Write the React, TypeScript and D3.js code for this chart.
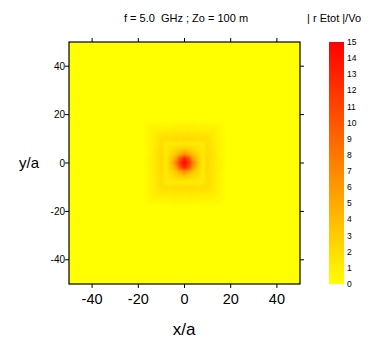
import React from "react";
import * as d3 from "d3";

// grid coordinates (x/a, y/a) of the field samples around the source
const gridX = [-16, -14, -12, -10, -8, -6, -4, -2, 0, 2, 4, 6, 8, 10, 12, 14, 16];
const gridY = [16, 14, 12, 10, 8, 6, 4, 2, 0, -2, -4, -6, -8, -10, -12, -14, -16];

// |r Etot|/Vo, one row per gridY value
const field = [
  [0.3, 0.4, 0.4, 0.5, 0.5, 0.5, 0.6, 0.6, 0.6, 0.6, 0.6, 0.5, 0.5, 0.5, 0.4, 0.4, 0.3],
  [0.4, 0.7, 0.8, 0.9, 0.9, 0.9, 1.0, 1.0, 1.0, 1.0, 1.0, 0.9, 0.9, 0.9, 0.8, 0.7, 0.4],
  [0.4, 0.8, 1.3, 1.4, 1.5, 1.5, 1.6, 1.6, 1.6, 1.6, 1.6, 1.5, 1.5, 1.4, 1.3, 0.8, 0.4],
  [0.5, 0.9, 1.4, 1.9, 2.0, 2.0, 2.1, 2.1, 2.2, 2.1, 2.1, 2.0, 2.0, 1.9, 1.4, 0.9, 0.5],
  [0.5, 0.9, 1.5, 2.0, 1.1, 1.1, 1.2, 1.2, 1.2, 1.2, 1.2, 1.1, 1.1, 2.0, 1.5, 0.9, 0.5],
  [0.5, 0.9, 1.5, 2.1, 1.2, 1.7, 2.1, 2.4, 2.8, 2.4, 2.1, 1.7, 1.2, 2.1, 1.5, 0.9, 0.5],
  [0.5, 1.0, 1.6, 2.2, 1.2, 2.2, 2.9, 4.4, 6.0, 4.4, 2.9, 2.2, 1.2, 2.2, 1.6, 1.0, 0.5],
  [0.6, 1.0, 1.6, 2.3, 1.2, 2.8, 5.0, 10.0, 14.0, 10.0, 5.0, 2.8, 1.2, 2.3, 1.6, 1.0, 0.6],
  [0.6, 1.0, 1.6, 2.3, 1.2, 3.4, 7.0, 12.5, 15.0, 12.5, 7.0, 3.4, 1.2, 2.3, 1.6, 1.0, 0.6],
  [0.6, 1.0, 1.6, 2.3, 1.2, 2.8, 5.0, 10.0, 14.0, 10.0, 5.0, 2.8, 1.2, 2.3, 1.6, 1.0, 0.6],
  [0.5, 1.0, 1.6, 2.2, 1.2, 2.2, 2.9, 4.4, 6.0, 4.4, 2.9, 2.2, 1.2, 2.2, 1.6, 1.0, 0.5],
  [0.5, 0.9, 1.5, 2.1, 1.2, 1.7, 2.1, 2.4, 2.8, 2.4, 2.1, 1.7, 1.2, 2.1, 1.5, 0.9, 0.5],
  [0.5, 0.9, 1.5, 2.0, 1.1, 1.1, 1.2, 1.2, 1.2, 1.2, 1.2, 1.1, 1.1, 2.0, 1.5, 0.9, 0.5],
  [0.5, 0.9, 1.4, 1.9, 2.0, 2.0, 2.1, 2.1, 2.2, 2.1, 2.1, 2.0, 2.0, 1.9, 1.4, 0.9, 0.5],
  [0.4, 0.8, 1.3, 1.4, 1.5, 1.5, 1.6, 1.6, 1.6, 1.6, 1.6, 1.5, 1.5, 1.4, 1.3, 0.8, 0.4],
  [0.4, 0.7, 0.8, 0.9, 0.9, 0.9, 1.0, 1.0, 1.0, 1.0, 1.0, 0.9, 0.9, 0.9, 0.8, 0.7, 0.4],
  [0.3, 0.4, 0.4, 0.5, 0.5, 0.5, 0.6, 0.6, 0.6, 0.6, 0.6, 0.5, 0.5, 0.5, 0.4, 0.4, 0.3],
];
const cellStep = 2;
const backgroundValue = 0;

const axisTicks = [-40, -20, 0, 20, 40];
const colorTicks = [0, 1, 2, 3, 4, 5, 6, 7, 8, 9, 10, 11, 12, 13, 14, 15];

const font = "'Liberation Sans', Arial, sans-serif";

export default function App() {
  const plot = { left: 69, right: 300, top: 42, bottom: 284 };
  const bar = { left: 329, width: 15 };

  const x = d3.scaleLinear().domain([-50, 50]).range([plot.left, plot.right]);
  const y = d3.scaleLinear().domain([-50, 50]).range([plot.bottom, plot.top]);
  const color = d3.scaleLinear<string>().domain([0, 15]).range(["#ffff00", "#ff0000"]);
  const barY = d3.scaleLinear().domain([0, 15]).range([plot.bottom, plot.top]);

  const cells = field.flatMap((row, i) =>
    row.map((v, j) => ({ cx: gridX[j], cy: gridY[i], v }))
  );
  const cw = x(cellStep) - x(0);
  const ch = y(0) - y(cellStep);

  return (
    <svg width={371} height={341} style={{ position: "absolute", left: 0, top: 0, background: "#fff" }}>
      <defs>
        <clipPath id="plotClip">
          <rect x={plot.left} y={plot.top} width={plot.right - plot.left} height={plot.bottom - plot.top} />
        </clipPath>
        <filter id="soft" x="-20%" y="-20%" width="140%" height="140%">
          <feGaussianBlur stdDeviation="1.6" />
        </filter>
        <linearGradient id="barGrad" x1="0" y1="1" x2="0" y2="0">
          <stop offset="0%" stopColor={color(0)} />
          <stop offset="100%" stopColor={color(15)} />
        </linearGradient>
      </defs>

      <text x={186} y={22} textAnchor="middle" fontFamily={font} fontSize={11} xmlSpace="preserve">
        f = 5.0  GHz ; Zo = 100 m
      </text>
      <text x={307} y={22} fontFamily={font} fontSize={11}>| r Etot |/Vo</text>

      <g clipPath="url(#plotClip)">
        <rect x={plot.left} y={plot.top} width={plot.right - plot.left} height={plot.bottom - plot.top}
          fill={color(backgroundValue)} />
        <g filter="url(#soft)">
          {cells.map((c, k) => (
            <rect key={k} x={x(c.cx) - cw / 2} y={y(c.cy) - ch / 2} width={cw + 0.5} height={ch + 0.5}
              fill={color(c.v)} />
          ))}
        </g>
      </g>
      <rect x={plot.left} y={plot.top} width={plot.right - plot.left} height={plot.bottom - plot.top}
        fill="none" stroke="#000" strokeWidth={1.2} />

      {axisTicks.map((t) => (
        <g key={"x" + t}>
          <line x1={x(t)} x2={x(t)} y1={plot.bottom} y2={plot.bottom + 4} stroke="#000" />
          <line x1={x(t)} x2={x(t)} y1={plot.top} y2={plot.top - 4} stroke="#000" />
          <text x={x(t)} y={304} textAnchor="middle" fontFamily={font} fontSize={14.5}>{t}</text>
        </g>
      ))}
      {axisTicks.map((t) => (
        <g key={"y" + t}>
          <line x1={plot.left - 4} x2={plot.left} y1={y(t)} y2={y(t)} stroke="#000" />
          <line x1={plot.right} x2={plot.right + 4} y1={y(t)} y2={y(t)} stroke="#000" />
          <text x={plot.left - 4} y={y(t) + 3.5} textAnchor="end" fontFamily={font} fontSize={10}>{t}</text>
        </g>
      ))}

      <text x={184} y={335} textAnchor="middle" fontFamily={font} fontSize={17}>x/a</text>
      <text x={19} y={168} fontFamily={font} fontSize={15}>y/a</text>

      <rect x={bar.left} y={plot.top} width={bar.width} height={plot.bottom - plot.top} fill="url(#barGrad)" />
      {colorTicks.map((t) => (
        <text key={"c" + t} x={bar.left + bar.width + 3} y={barY(t) + 3} fontFamily={font} fontSize={8.5}>{t}</text>
      ))}
    </svg>
  );
}
